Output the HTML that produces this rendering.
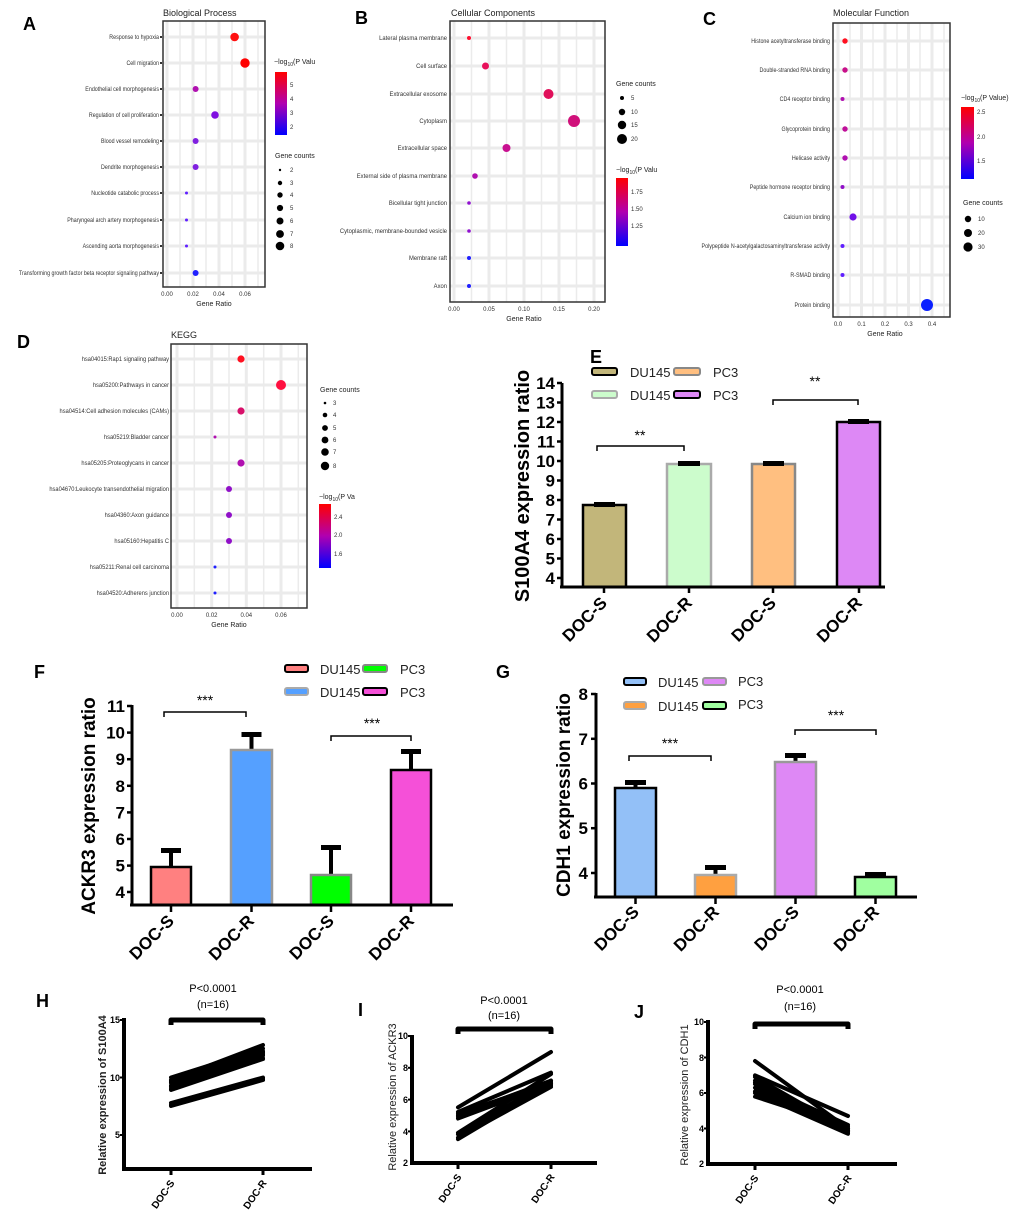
<!DOCTYPE html>
<html><head><meta charset="utf-8"><style>
html,body{margin:0;padding:0;background:#fff;}
svg{display:block;font-family:"Liberation Sans",sans-serif;}
.pl{font-size:18px;font-weight:bold;}
.yl{font-size:6.5px;fill:#333;}
.tk{font-size:6px;fill:#333;}
.gt{font-size:7px;fill:#222;}
.bt{font-size:17px;font-weight:bold;}
.lg{font-size:13px;fill:#222;}
.st{font-size:17px;font-weight:bold;}
</style></head><body>
<svg width="1020" height="1210" viewBox="0 0 1020 1210" xmlns="http://www.w3.org/2000/svg">
<rect width="1020" height="1210" fill="#fff"/>
<defs>
<linearGradient id="cb" x1="0" y1="0" x2="0" y2="1"><stop offset="0" stop-color="#ff0000"/><stop offset="0.5" stop-color="#b000b0"/><stop offset="1" stop-color="#0000ff"/></linearGradient>
</defs>

<!-- Panel letters -->
<text x="23" y="30" class="pl" font-size="20">A</text>
<text x="355" y="24" class="pl" font-size="20">B</text>
<text x="703" y="25" class="pl" font-size="20">C</text>
<text x="17" y="348" class="pl" font-size="20">D</text>
<text x="590" y="363" class="pl" font-size="20">E</text>
<text x="34" y="678" class="pl" font-size="20">F</text>
<text x="496" y="678" class="pl" font-size="20">G</text>
<text x="36" y="1007" class="pl" font-size="20">H</text>
<text x="358" y="1016" class="pl" font-size="20">I</text>
<text x="634" y="1018" class="pl" font-size="20">J</text>

<!-- ===== Panel A ===== -->
<text x="163" y="16" font-size="9" fill="#222">Biological Process</text>
<g stroke="#ebebeb">
<g stroke-width="3"><line x1="163" x2="265" y1="37" y2="37"/><line x1="163" x2="265" y1="63" y2="63"/><line x1="163" x2="265" y1="89" y2="89"/><line x1="163" x2="265" y1="115" y2="115"/><line x1="163" x2="265" y1="141" y2="141"/><line x1="163" x2="265" y1="167" y2="167"/><line x1="163" x2="265" y1="193" y2="193"/><line x1="163" x2="265" y1="220" y2="220"/><line x1="163" x2="265" y1="246" y2="246"/><line x1="163" x2="265" y1="273" y2="273"/>
<line x1="167" x2="167" y1="21" y2="287"/><line x1="193" x2="193" y1="21" y2="287"/><line x1="219" x2="219" y1="21" y2="287"/><line x1="245" x2="245" y1="21" y2="287"/></g>
<g stroke-width="1.5"><line x1="180" x2="180" y1="21" y2="287"/><line x1="206" x2="206" y1="21" y2="287"/><line x1="232" x2="232" y1="21" y2="287"/><line x1="258" x2="258" y1="21" y2="287"/></g>
</g>
<rect x="163" y="21" width="102" height="266" fill="none" stroke="#333" stroke-width="1.5"/>
<g fill="#333"><rect x="160" y="36" width="2" height="2"/><rect x="160" y="62" width="2" height="2"/><rect x="160" y="88" width="2" height="2"/><rect x="160" y="114" width="2" height="2"/><rect x="160" y="140" width="2" height="2"/><rect x="160" y="166" width="2" height="2"/><rect x="160" y="192" width="2" height="2"/><rect x="160" y="219" width="2" height="2"/><rect x="160" y="245" width="2" height="2"/><rect x="160" y="272" width="2" height="2"/></g>
<g transform="translate(159,0) scale(0.82,1)" class="yl" text-anchor="end">
<text y="39">Response to hypoxia</text><text y="65">Cell migration</text><text y="91">Endothelial cell morphogenesis</text><text y="117">Regulation of cell proliferation</text><text y="143">Blood vessel remodeling</text><text y="169">Dendrite morphogenesis</text><text y="195">Nucleotide catabolic process</text><text y="222">Pharyngeal arch artery morphogenesis</text><text y="248">Ascending aorta morphogenesis</text><text y="275">Transforming growth factor beta receptor signaling pathway</text>
</g>
<circle cx="234.6" cy="37" r="4.3" fill="#ff1010"/><circle cx="245" cy="63" r="4.7" fill="#ff0000"/><circle cx="195.6" cy="89" r="3" fill="#b010b0"/><circle cx="215" cy="115" r="3.8" fill="#8010e0"/><circle cx="195.6" cy="141" r="3" fill="#8020e0"/><circle cx="195.6" cy="167" r="3" fill="#8020e0"/><circle cx="186.5" cy="193" r="1.5" fill="#6020ff"/><circle cx="186.5" cy="220" r="1.5" fill="#6020ff"/><circle cx="186.5" cy="246" r="1.5" fill="#6020ff"/><circle cx="195.6" cy="273" r="3" fill="#2020ff"/>
<g class="tk" text-anchor="middle"><text x="167" y="296">0.00</text><text x="193" y="296">0.02</text><text x="219" y="296">0.04</text><text x="245" y="296">0.06</text></g>
<text x="214" y="306" class="gt" text-anchor="middle">Gene Ratio</text>
<text x="274" y="64" font-size="7" fill="#222">−log<tspan font-size="5" dy="2">10</tspan><tspan dy="-2">(P Valu</tspan></text>
<rect x="275" y="72" width="12" height="63" fill="url(#cb)"/>
<g class="tk"><text x="290" y="87">5</text><text x="290" y="101">4</text><text x="290" y="115">3</text><text x="290" y="129">2</text></g>
<text x="275" y="158" font-size="7" fill="#222">Gene counts</text>
<g fill="#000"><circle cx="280" cy="170" r="1.2"/><circle cx="280" cy="183" r="2.2"/><circle cx="280" cy="195" r="2.7"/><circle cx="280" cy="208" r="3.1"/><circle cx="280" cy="221" r="3.5"/><circle cx="280" cy="234" r="3.9"/><circle cx="280" cy="246" r="4.3"/></g>
<g class="tk"><text x="290" y="172">2</text><text x="290" y="185">3</text><text x="290" y="197">4</text><text x="290" y="210">5</text><text x="290" y="223">6</text><text x="290" y="236">7</text><text x="290" y="248">8</text></g>

<!-- ===== Panel B ===== -->
<text x="451" y="16" font-size="9" fill="#222">Cellular Components</text>
<g stroke="#ebebeb">
<g stroke-width="3"><line x1="450" x2="605" y1="38" y2="38"/><line x1="450" x2="605" y1="66" y2="66"/><line x1="450" x2="605" y1="94" y2="94"/><line x1="450" x2="605" y1="121" y2="121"/><line x1="450" x2="605" y1="148" y2="148"/><line x1="450" x2="605" y1="176" y2="176"/><line x1="450" x2="605" y1="203" y2="203"/><line x1="450" x2="605" y1="231" y2="231"/><line x1="450" x2="605" y1="258" y2="258"/><line x1="450" x2="605" y1="286" y2="286"/>
<line x1="454" x2="454" y1="21" y2="302"/><line x1="489" x2="489" y1="21" y2="302"/><line x1="524" x2="524" y1="21" y2="302"/><line x1="559" x2="559" y1="21" y2="302"/><line x1="594" x2="594" y1="21" y2="302"/></g>
<g stroke-width="1.5"><line x1="471.5" x2="471.5" y1="21" y2="302"/><line x1="506.5" x2="506.5" y1="21" y2="302"/><line x1="541.5" x2="541.5" y1="21" y2="302"/><line x1="576.5" x2="576.5" y1="21" y2="302"/></g>
</g>
<rect x="450" y="21" width="155" height="281" fill="none" stroke="#333" stroke-width="1.5"/>
<g transform="translate(447,0) scale(0.9,1)" class="yl" text-anchor="end">
<text y="40">Lateral plasma membrane</text><text y="68">Cell surface</text><text y="96">Extracellular exosome</text><text y="123">Cytoplasm</text><text y="150">Extracellular space</text><text y="178">External side of plasma membrane</text><text y="205">Bicellular tight junction</text><text y="233">Cytoplasmic, membrane-bounded vesicle</text><text y="260">Membrane raft</text><text y="288">Axon</text>
</g>
<circle cx="469" cy="38" r="2" fill="#ff1030"/><circle cx="485.5" cy="66" r="3.5" fill="#e8105a"/><circle cx="548.5" cy="94" r="5" fill="#e0105a"/><circle cx="574" cy="121" r="6" fill="#d0107a"/><circle cx="506.5" cy="148" r="4" fill="#c81090"/><circle cx="475" cy="176" r="2.8" fill="#b010b0"/><circle cx="469" cy="203" r="1.8" fill="#9010d0"/><circle cx="469" cy="231" r="1.8" fill="#9010d0"/><circle cx="469" cy="258" r="2" fill="#2020ff"/><circle cx="469" cy="286" r="2" fill="#2020ff"/>
<g class="tk" text-anchor="middle"><text x="454" y="311">0.00</text><text x="489" y="311">0.05</text><text x="524" y="311">0.10</text><text x="559" y="311">0.15</text><text x="594" y="311">0.20</text></g>
<text x="524" y="321" class="gt" text-anchor="middle">Gene Ratio</text>
<text x="616" y="86" font-size="7" fill="#222">Gene counts</text>
<g fill="#000"><circle cx="622" cy="98" r="2"/><circle cx="622" cy="112" r="3.2"/><circle cx="622" cy="125" r="4.2"/><circle cx="622" cy="139" r="5"/></g>
<g class="tk"><text x="631" y="100">5</text><text x="631" y="114">10</text><text x="631" y="127">15</text><text x="631" y="141">20</text></g>
<text x="616" y="172" font-size="7" fill="#222">−log<tspan font-size="5" dy="2">10</tspan><tspan dy="-2">(P Valu</tspan></text>
<rect x="616" y="178" width="12" height="68" fill="url(#cb)"/>
<g class="tk"><text x="631" y="194">1.75</text><text x="631" y="211">1.50</text><text x="631" y="228">1.25</text></g>

<!-- ===== Panel C ===== -->
<text x="833" y="16" font-size="9" fill="#222">Molecular Function</text>
<g stroke="#ebebeb">
<g stroke-width="3"><line x1="833" x2="950" y1="41" y2="41"/><line x1="833" x2="950" y1="70" y2="70"/><line x1="833" x2="950" y1="99" y2="99"/><line x1="833" x2="950" y1="129" y2="129"/><line x1="833" x2="950" y1="158" y2="158"/><line x1="833" x2="950" y1="187" y2="187"/><line x1="833" x2="950" y1="217" y2="217"/><line x1="833" x2="950" y1="246" y2="246"/><line x1="833" x2="950" y1="275" y2="275"/><line x1="833" x2="950" y1="305" y2="305"/>
<line x1="838" x2="838" y1="23" y2="317"/><line x1="861.5" x2="861.5" y1="23" y2="317"/><line x1="885" x2="885" y1="23" y2="317"/><line x1="908.5" x2="908.5" y1="23" y2="317"/><line x1="932" x2="932" y1="23" y2="317"/></g>
<g stroke-width="1.5"><line x1="850" x2="850" y1="23" y2="317"/><line x1="873" x2="873" y1="23" y2="317"/><line x1="897" x2="897" y1="23" y2="317"/><line x1="920" x2="920" y1="23" y2="317"/><line x1="944" x2="944" y1="23" y2="317"/></g>
</g>
<rect x="833" y="23" width="117" height="294" fill="none" stroke="#333" stroke-width="1.5"/>
<g transform="translate(830,0) scale(0.82,1)" class="yl" text-anchor="end">
<text y="43">Histone acetyltransferase binding</text><text y="72">Double-stranded RNA binding</text><text y="101">CD4 receptor binding</text><text y="131">Glycoprotein binding</text><text y="160">Helicase activity</text><text y="189">Peptide hormone receptor binding</text><text y="219">Calcium ion binding</text><text y="248">Polypeptide N-acetylgalactosaminyltransferase activity</text><text y="277">R-SMAD binding</text><text y="307">Protein binding</text>
</g>
<circle cx="845" cy="41" r="2.7" fill="#ff1020"/><circle cx="845" cy="70" r="2.7" fill="#c8108a"/><circle cx="842.5" cy="99" r="2" fill="#b010b0"/><circle cx="845" cy="129" r="2.7" fill="#c0109a"/><circle cx="845" cy="158" r="2.7" fill="#b010b0"/><circle cx="842.5" cy="187" r="2" fill="#9010c8"/><circle cx="853" cy="217" r="3.6" fill="#7010e8"/><circle cx="842.5" cy="246" r="2" fill="#6020ff"/><circle cx="842.5" cy="275" r="2" fill="#6020ff"/><circle cx="927" cy="305" r="6" fill="#0a20ff"/>
<g class="tk" text-anchor="middle"><text x="838" y="326">0.0</text><text x="861.5" y="326">0.1</text><text x="885" y="326">0.2</text><text x="908.5" y="326">0.3</text><text x="932" y="326">0.4</text></g>
<text x="885" y="336" class="gt" text-anchor="middle">Gene Ratio</text>
<text x="961" y="100" font-size="7" fill="#222">−log<tspan font-size="5" dy="2">10</tspan><tspan dy="-2">(P Value)</tspan></text>
<rect x="961" y="107" width="13" height="72" fill="url(#cb)"/>
<g class="tk"><text x="977" y="114">2.5</text><text x="977" y="139">2.0</text><text x="977" y="163">1.5</text></g>
<text x="963" y="205" font-size="7" fill="#222">Gene counts</text>
<g fill="#000"><circle cx="968" cy="219" r="3.2"/><circle cx="968" cy="233" r="4"/><circle cx="968" cy="247" r="4.6"/></g>
<g class="tk"><text x="978" y="221">10</text><text x="978" y="235">20</text><text x="978" y="249">30</text></g>

<!-- ===== Panel D ===== -->
<text x="171" y="338" font-size="9" fill="#222">KEGG</text>
<g stroke="#ebebeb">
<g stroke-width="3"><line x1="171" x2="307" y1="359" y2="359"/><line x1="171" x2="307" y1="385" y2="385"/><line x1="171" x2="307" y1="411" y2="411"/><line x1="171" x2="307" y1="437" y2="437"/><line x1="171" x2="307" y1="463" y2="463"/><line x1="171" x2="307" y1="489" y2="489"/><line x1="171" x2="307" y1="515" y2="515"/><line x1="171" x2="307" y1="541" y2="541"/><line x1="171" x2="307" y1="567" y2="567"/><line x1="171" x2="307" y1="593" y2="593"/>
<line x1="177" x2="177" y1="344" y2="608"/><line x1="211.7" x2="211.7" y1="344" y2="608"/><line x1="246.3" x2="246.3" y1="344" y2="608"/><line x1="281" x2="281" y1="344" y2="608"/></g>
<g stroke-width="1.5"><line x1="194.3" x2="194.3" y1="344" y2="608"/><line x1="229" x2="229" y1="344" y2="608"/><line x1="263.7" x2="263.7" y1="344" y2="608"/><line x1="298.3" x2="298.3" y1="344" y2="608"/></g>
</g>
<rect x="171" y="344" width="136" height="264" fill="none" stroke="#333" stroke-width="1.5"/>
<g transform="translate(169,0) scale(0.88,1)" class="yl" text-anchor="end">
<text y="361">hsa04015:Rap1 signaling pathway</text><text y="387">hsa05200:Pathways in cancer</text><text y="413">hsa04514:Cell adhesion molecules (CAMs)</text><text y="439">hsa05219:Bladder cancer</text><text y="465">hsa05205:Proteoglycans in cancer</text><text y="491">hsa04670:Leukocyte transendothelial migration</text><text y="517">hsa04360:Axon guidance</text><text y="543">hsa05160:Hepatitis C</text><text y="569">hsa05211:Renal cell carcinoma</text><text y="595">hsa04520:Adherens junction</text>
</g>
<circle cx="241" cy="359" r="3.6" fill="#ff1020"/><circle cx="281" cy="385" r="5" fill="#ff1040"/><circle cx="241" cy="411" r="3.6" fill="#d8106a"/><circle cx="215" cy="437" r="1.5" fill="#b010b0"/><circle cx="241" cy="463" r="3.6" fill="#b010b0"/><circle cx="229" cy="489" r="3" fill="#9010c8"/><circle cx="229" cy="515" r="3" fill="#9010c8"/><circle cx="229" cy="541" r="3" fill="#9010c8"/><circle cx="215" cy="567" r="1.5" fill="#2020ff"/><circle cx="215" cy="593" r="1.5" fill="#2020ff"/>
<g class="tk" text-anchor="middle"><text x="177" y="617">0.00</text><text x="211.7" y="617">0.02</text><text x="246.3" y="617">0.04</text><text x="281" y="617">0.06</text></g>
<text x="229" y="627" class="gt" text-anchor="middle">Gene Ratio</text>
<text x="320" y="392" font-size="7" fill="#222">Gene counts</text>
<g fill="#000"><circle cx="325" cy="403" r="1.3"/><circle cx="325" cy="415" r="2.3"/><circle cx="325" cy="428" r="2.9"/><circle cx="325" cy="440" r="3.4"/><circle cx="325" cy="452" r="3.8"/><circle cx="325" cy="466" r="4.2"/></g>
<g class="tk"><text x="333" y="405">3</text><text x="333" y="417">4</text><text x="333" y="430">5</text><text x="333" y="442">6</text><text x="333" y="454">7</text><text x="333" y="468">8</text></g>
<text x="319" y="499" font-size="7" fill="#222">−log<tspan font-size="5" dy="2">10</tspan><tspan dy="-2">(P Va</tspan></text>
<rect x="319" y="504" width="12" height="64" fill="url(#cb)"/>
<g class="tk"><text x="334" y="519">2.4</text><text x="334" y="537">2.0</text><text x="334" y="556">1.6</text></g>

<!-- ===== Panel E ===== -->
<g>
<rect x="592" y="368" width="25" height="7" rx="2" fill="#c2b67a" stroke="#000" stroke-width="2"/>
<text x="630" y="377" class="lg">DU145</text>
<rect x="674" y="368" width="26" height="7" rx="2" fill="#ffbf80" stroke="#888" stroke-width="2"/>
<text x="713" y="377" class="lg">PC3</text>
<rect x="592" y="391" width="25" height="7" rx="2" fill="#ccfccc" stroke="#aaa" stroke-width="2"/>
<text x="630" y="400" class="lg">DU145</text>
<rect x="674" y="391" width="26" height="7" rx="2" fill="#dd88f5" stroke="#000" stroke-width="2"/>
<text x="713" y="400" class="lg">PC3</text>
</g>
<rect x="583" y="505" width="43" height="82" fill="#c2b67a" stroke="#000" stroke-width="2.5"/>
<rect x="667" y="464" width="44" height="123" fill="#ccfccc" stroke="#aaa" stroke-width="2.5"/>
<rect x="752" y="464" width="43" height="123" fill="#ffbf80" stroke="#888" stroke-width="2.5"/>
<rect x="837" y="422" width="43" height="165" fill="#dd88f5" stroke="#000" stroke-width="2.5"/>
<g fill="#000"><rect x="594" y="502" width="21" height="5"/><rect x="678" y="461" width="22" height="5"/><rect x="763" y="461" width="21" height="5"/><rect x="848" y="419" width="21" height="5"/></g>
<g stroke="#000" stroke-width="3" fill="none">
<line x1="562" y1="383" x2="562" y2="588"/><line x1="560" y1="587" x2="885" y2="587"/>
</g>
<g stroke="#000" stroke-width="2.5">
<line x1="557" y1="383" x2="562" y2="383"/><line x1="557" y1="402.5" x2="562" y2="402.5"/><line x1="557" y1="422" x2="562" y2="422"/><line x1="557" y1="441.5" x2="562" y2="441.5"/><line x1="557" y1="461" x2="562" y2="461"/><line x1="557" y1="480.5" x2="562" y2="480.5"/><line x1="557" y1="500" x2="562" y2="500"/><line x1="557" y1="519.5" x2="562" y2="519.5"/><line x1="557" y1="539" x2="562" y2="539"/><line x1="557" y1="558.5" x2="562" y2="558.5"/><line x1="557" y1="578" x2="562" y2="578"/>
<line x1="604" y1="587" x2="604" y2="593"/><line x1="689" y1="587" x2="689" y2="593"/><line x1="773" y1="587" x2="773" y2="593"/><line x1="859" y1="587" x2="859" y2="593"/>
</g>
<g class="bt" text-anchor="end"><text x="555" y="389">14</text><text x="555" y="408.5">13</text><text x="555" y="428">12</text><text x="555" y="447.5">11</text><text x="555" y="467">10</text><text x="555" y="486.5">9</text><text x="555" y="506">8</text><text x="555" y="525.5">7</text><text x="555" y="545">6</text><text x="555" y="564.5">5</text><text x="555" y="584">4</text></g>
<text transform="translate(529,486) rotate(-90)" text-anchor="middle" font-size="20" font-weight="bold">S100A4 expression ratio</text>
<g class="st" text-anchor="end"><text transform="translate(608,604) rotate(-45)">DOC-S</text><text transform="translate(693,604) rotate(-45)">DOC-R</text><text transform="translate(777,604) rotate(-45)">DOC-S</text><text transform="translate(863,604) rotate(-45)">DOC-R</text></g>
<g stroke="#000" stroke-width="1.5" fill="none"><polyline points="597,451 597,446 684,446 684,451"/><polyline points="773,405 773,400 858,400 858,405"/></g>
<text x="640" y="440" text-anchor="middle" font-size="14">**</text>
<text x="815" y="386" text-anchor="middle" font-size="14">**</text>

<!-- ===== Panel F ===== -->
<rect x="285" y="665" width="23" height="7" rx="2" fill="#ff8080" stroke="#000" stroke-width="2"/>
<text x="320" y="674" class="lg">DU145</text>
<rect x="363" y="665" width="24" height="7" rx="2" fill="#00ff00" stroke="#888" stroke-width="2"/>
<text x="400" y="674" class="lg">PC3</text>
<rect x="285" y="688" width="23" height="7" rx="2" fill="#55a0ff" stroke="#aaa" stroke-width="2"/>
<text x="320" y="697" class="lg">DU145</text>
<rect x="363" y="688" width="24" height="7" rx="2" fill="#f550d8" stroke="#000" stroke-width="2"/>
<text x="400" y="697" class="lg">PC3</text>
<g stroke="#000" stroke-width="4"><line x1="171" y1="867" x2="171" y2="850"/><line x1="251.5" y1="750" x2="251.5" y2="734"/><line x1="331" y1="875" x2="331" y2="847"/><line x1="411" y1="770" x2="411" y2="751"/></g>
<g fill="#000"><rect x="161" y="848" width="20" height="5"/><rect x="241.5" y="732" width="20" height="5"/><rect x="321" y="845" width="20" height="5"/><rect x="401" y="749" width="20" height="5"/></g>
<rect x="151" y="867" width="40" height="38" fill="#ff8080" stroke="#000" stroke-width="2.5"/>
<rect x="231" y="750" width="41" height="155" fill="#55a0ff" stroke="#999" stroke-width="2.5"/>
<rect x="311" y="875" width="40" height="30" fill="#00ff00" stroke="#888" stroke-width="2.5"/>
<rect x="391" y="770" width="40" height="135" fill="#f550d8" stroke="#000" stroke-width="2.5"/>
<g stroke="#000" stroke-width="3"><line x1="132" y1="705" x2="132" y2="906"/><line x1="130" y1="905" x2="453" y2="905"/></g>
<g stroke="#000" stroke-width="2.5">
<line x1="127" y1="706" x2="132" y2="706"/><line x1="127" y1="732.6" x2="132" y2="732.6"/><line x1="127" y1="759.2" x2="132" y2="759.2"/><line x1="127" y1="785.8" x2="132" y2="785.8"/><line x1="127" y1="812.4" x2="132" y2="812.4"/><line x1="127" y1="839" x2="132" y2="839"/><line x1="127" y1="865.6" x2="132" y2="865.6"/><line x1="127" y1="892" x2="132" y2="892"/>
<line x1="171" y1="905" x2="171" y2="912"/><line x1="251.5" y1="905" x2="251.5" y2="912"/><line x1="331" y1="905" x2="331" y2="912"/><line x1="411" y1="905" x2="411" y2="912"/>
</g>
<g class="bt" text-anchor="end"><text x="125" y="712">11</text><text x="125" y="738.6">10</text><text x="125" y="765.2">9</text><text x="125" y="791.8">8</text><text x="125" y="818.4">7</text><text x="125" y="845">6</text><text x="125" y="871.6">5</text><text x="125" y="898">4</text></g>
<text transform="translate(95,806) rotate(-90)" text-anchor="middle" font-size="19" font-weight="bold">ACKR3 expression ratio</text>
<g class="st" text-anchor="end"><text transform="translate(175,922) rotate(-45)">DOC-S</text><text transform="translate(255,922) rotate(-45)">DOC-R</text><text transform="translate(335,922) rotate(-45)">DOC-S</text><text transform="translate(415,922) rotate(-45)">DOC-R</text></g>
<g stroke="#000" stroke-width="1.5" fill="none"><polyline points="164,717 164,712 246,712 246,717"/><polyline points="331,741 331,736 411,736 411,741"/></g>
<text x="205" y="705" text-anchor="middle" font-size="14">***</text>
<text x="372" y="728" text-anchor="middle" font-size="14">***</text>

<!-- ===== Panel G ===== -->
<rect x="624" y="678" width="22" height="7" rx="2" fill="#93c0f7" stroke="#000" stroke-width="2"/>
<text x="658" y="687" class="lg">DU145</text>
<rect x="703" y="678" width="23" height="7" rx="2" fill="#de88f5" stroke="#999" stroke-width="2"/>
<text x="738" y="686" class="lg">PC3</text>
<rect x="624" y="702" width="22" height="7" rx="2" fill="#ffa040" stroke="#aaa" stroke-width="2"/>
<text x="658" y="711" class="lg">DU145</text>
<rect x="703" y="702" width="23" height="7" rx="2" fill="#a0ffa0" stroke="#000" stroke-width="2"/>
<text x="738" y="709" class="lg">PC3</text>
<g stroke="#000" stroke-width="4"><line x1="635.5" y1="788" x2="635.5" y2="782"/><line x1="715.5" y1="875" x2="715.5" y2="867"/><line x1="795.5" y1="762" x2="795.5" y2="755"/><line x1="875.5" y1="877" x2="875.5" y2="874"/></g>
<g fill="#000"><rect x="625" y="780" width="21" height="5"/><rect x="705" y="865" width="21" height="5"/><rect x="785" y="753" width="21" height="5"/><rect x="865" y="872" width="21" height="5"/></g>
<rect x="615" y="788" width="41" height="109" fill="#93c0f7" stroke="#000" stroke-width="2.5"/>
<rect x="695" y="875" width="41" height="22" fill="#ffa040" stroke="#aaa" stroke-width="2.5"/>
<rect x="775" y="762" width="41" height="135" fill="#de88f5" stroke="#999" stroke-width="2.5"/>
<rect x="855" y="877" width="41" height="20" fill="#a0ffa0" stroke="#000" stroke-width="2.5"/>
<g stroke="#000" stroke-width="3"><line x1="596" y1="693" x2="596" y2="898"/><line x1="594" y1="897" x2="917" y2="897"/></g>
<g stroke="#000" stroke-width="2.5">
<line x1="591" y1="694" x2="596" y2="694"/><line x1="591" y1="738.8" x2="596" y2="738.8"/><line x1="591" y1="783.5" x2="596" y2="783.5"/><line x1="591" y1="828.2" x2="596" y2="828.2"/><line x1="591" y1="873" x2="596" y2="873"/>
<line x1="635.5" y1="897" x2="635.5" y2="904"/><line x1="715.5" y1="897" x2="715.5" y2="904"/><line x1="795.5" y1="897" x2="795.5" y2="904"/><line x1="875.5" y1="897" x2="875.5" y2="904"/>
</g>
<g class="bt" text-anchor="end"><text x="588" y="700">8</text><text x="588" y="744.8">7</text><text x="588" y="789.5">6</text><text x="588" y="834.2">5</text><text x="588" y="879">4</text></g>
<text transform="translate(570,795) rotate(-90)" text-anchor="middle" font-size="19" font-weight="bold">CDH1 expression ratio</text>
<g class="st" text-anchor="end"><text transform="translate(640,913) rotate(-45)">DOC-S</text><text transform="translate(720,913) rotate(-45)">DOC-R</text><text transform="translate(800,913) rotate(-45)">DOC-S</text><text transform="translate(880,913) rotate(-45)">DOC-R</text></g>
<g stroke="#000" stroke-width="1.5" fill="none"><polyline points="629,761 629,756 711,756 711,761"/><polyline points="795,735 795,730 876,730 876,735"/></g>
<text x="670" y="748" text-anchor="middle" font-size="14">***</text>
<text x="836" y="720" text-anchor="middle" font-size="14">***</text>

<!-- ===== Panel H ===== -->
<text x="213" y="992" text-anchor="middle" font-size="11">P&lt;0.0001</text>
<text x="213" y="1008" text-anchor="middle" font-size="11">(n=16)</text>
<g stroke="#000" stroke-width="5" fill="none" stroke-linejoin="round"><polyline points="171,1025 171,1020 263,1020 263,1025"/></g>
<g stroke="#000" stroke-width="4" stroke-linecap="round">
<line x1="171" y1="1106" x2="263" y2="1080"/><line x1="171" y1="1103" x2="263" y2="1077.5"/><line x1="171" y1="1105" x2="263" y2="1079"/>
<line x1="171" y1="1089" x2="263" y2="1058"/><line x1="171" y1="1085.5" x2="263" y2="1054.5"/><line x1="171" y1="1082" x2="263" y2="1052"/><line x1="171" y1="1080" x2="263" y2="1045"/><line x1="171" y1="1077.5" x2="263" y2="1048.5"/><line x1="171" y1="1083" x2="263" y2="1055.5"/><line x1="171" y1="1090" x2="263" y2="1059"/><line x1="171" y1="1087" x2="263" y2="1053"/><line x1="171" y1="1081" x2="263" y2="1051"/>
</g>
<g stroke="#000"><line x1="124" y1="1018" x2="124" y2="1171" stroke-width="4"/><line x1="122" y1="1169" x2="312" y2="1169" stroke-width="4"/>
<line x1="120" y1="1020" x2="124" y2="1020" stroke-width="2"/><line x1="120" y1="1077.5" x2="124" y2="1077.5" stroke-width="2"/><line x1="120" y1="1135" x2="124" y2="1135" stroke-width="2"/>
<line x1="171" y1="1169" x2="171" y2="1175" stroke-width="3"/><line x1="263" y1="1169" x2="263" y2="1175" stroke-width="3"/></g>
<g font-size="9" font-weight="bold" text-anchor="end"><text x="120" y="1023">15</text><text x="120" y="1081">10</text><text x="120" y="1138">5</text></g>
<text transform="translate(106,1095) rotate(-90)" text-anchor="middle" font-size="11" font-weight="bold" fill="#222">Relative expression of S100A4</text>
<g font-size="10" font-weight="bold" text-anchor="end"><text transform="translate(175,1183) rotate(-55)">DOC-S</text><text transform="translate(267,1183) rotate(-55)">DOC-R</text></g>

<!-- ===== Panel I ===== -->
<text x="504" y="1004" text-anchor="middle" font-size="11">P&lt;0.0001</text>
<text x="504" y="1019" text-anchor="middle" font-size="11">(n=16)</text>
<g stroke="#000" stroke-width="5" fill="none" stroke-linejoin="round"><polyline points="458,1034 458,1029 551,1029 551,1034"/></g>
<g stroke="#000" stroke-width="4" stroke-linecap="round">
<line x1="458" y1="1107.4" x2="551" y2="1052"/><line x1="458" y1="1112" x2="551" y2="1072.6"/><line x1="458" y1="1115.3" x2="551" y2="1080.6"/><line x1="458" y1="1118.5" x2="551" y2="1083.8"/>
<line x1="458" y1="1132.8" x2="551" y2="1074"/><line x1="458" y1="1137.6" x2="551" y2="1086.9"/><line x1="458" y1="1134.4" x2="551" y2="1080.6"/><line x1="458" y1="1113.7" x2="551" y2="1082.2"/><line x1="458" y1="1116.9" x2="551" y2="1085.4"/><line x1="458" y1="1139.2" x2="551" y2="1083.8"/>
</g>
<g stroke="#000"><line x1="412" y1="1035" x2="412" y2="1165" stroke-width="4"/><line x1="410" y1="1163" x2="597" y2="1163" stroke-width="4"/>
<line x1="408" y1="1036" x2="412" y2="1036" stroke-width="2"/><line x1="408" y1="1067.8" x2="412" y2="1067.8" stroke-width="2"/><line x1="408" y1="1099.6" x2="412" y2="1099.6" stroke-width="2"/><line x1="408" y1="1131.4" x2="412" y2="1131.4" stroke-width="2"/>
<line x1="458" y1="1163" x2="458" y2="1169" stroke-width="3"/><line x1="551" y1="1163" x2="551" y2="1169" stroke-width="3"/></g>
<g font-size="9" font-weight="bold" text-anchor="end"><text x="408" y="1039">10</text><text x="408" y="1071">8</text><text x="408" y="1103">6</text><text x="408" y="1135">4</text><text x="408" y="1166">2</text></g>
<text transform="translate(396,1097) rotate(-90)" text-anchor="middle" font-size="11" fill="#222">Relative expression of ACKR3</text>
<g font-size="10" font-weight="bold" text-anchor="end"><text transform="translate(462,1177) rotate(-55)">DOC-S</text><text transform="translate(555,1177) rotate(-55)">DOC-R</text></g>

<!-- ===== Panel J ===== -->
<text x="800" y="993" text-anchor="middle" font-size="11">P&lt;0.0001</text>
<text x="800" y="1010" text-anchor="middle" font-size="11">(n=16)</text>
<g stroke="#000" stroke-width="5" fill="none" stroke-linejoin="round"><polyline points="755,1029 755,1024 848,1024 848,1029"/></g>
<g stroke="#000" stroke-width="4" stroke-linecap="round">
<line x1="755" y1="1061" x2="848" y2="1128.5"/><line x1="755" y1="1075.3" x2="848" y2="1116"/><line x1="755" y1="1080.6" x2="848" y2="1128.5"/><line x1="755" y1="1084.1" x2="848" y2="1130.3"/><line x1="755" y1="1087.7" x2="848" y2="1132"/><line x1="755" y1="1093" x2="848" y2="1133.8"/><line x1="755" y1="1096.6" x2="848" y2="1126.8"/><line x1="755" y1="1077" x2="848" y2="1130.3"/><line x1="755" y1="1082.4" x2="848" y2="1125"/><line x1="755" y1="1091.3" x2="848" y2="1132"/>
</g>
<g stroke="#000"><line x1="708" y1="1020" x2="708" y2="1166" stroke-width="4"/><line x1="706" y1="1164" x2="897" y2="1164" stroke-width="4"/>
<line x1="704" y1="1022" x2="708" y2="1022" stroke-width="2"/><line x1="704" y1="1057.5" x2="708" y2="1057.5" stroke-width="2"/><line x1="704" y1="1093" x2="708" y2="1093" stroke-width="2"/><line x1="704" y1="1128.5" x2="708" y2="1128.5" stroke-width="2"/>
<line x1="755" y1="1164" x2="755" y2="1170" stroke-width="3"/><line x1="848" y1="1164" x2="848" y2="1170" stroke-width="3"/></g>
<g font-size="9" font-weight="bold" text-anchor="end"><text x="704" y="1025">10</text><text x="704" y="1061">8</text><text x="704" y="1096">6</text><text x="704" y="1132">4</text><text x="704" y="1167">2</text></g>
<text transform="translate(688,1095) rotate(-90)" text-anchor="middle" font-size="11" fill="#222">Relative expression of CDH1</text>
<g font-size="10" font-weight="bold" text-anchor="end"><text transform="translate(759,1178) rotate(-55)">DOC-S</text><text transform="translate(852,1178) rotate(-55)">DOC-R</text></g>
</svg>
</body></html>
